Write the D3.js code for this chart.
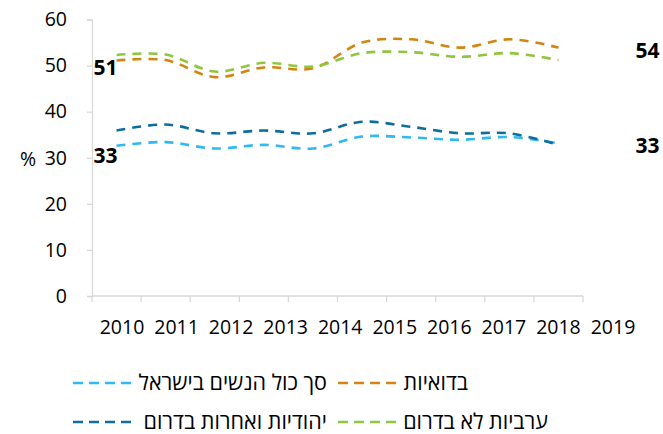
<!DOCTYPE html>
<html>
<head>
<meta charset="utf-8">
<script src="https://cdn.jsdelivr.net/npm/d3@7"></script>
<style>
  body { margin: 0; background: #fff; }
  svg text { font-family: "Open Sans", "Noto Sans", sans-serif; fill: #000; }
</style>
</head>
<body>
<div id="chart"></div>
<script>
// data
var years = ["2010","2011","2012","2013","2014","2015","2016","2017","2018","2019"];
var yTicks = [0, 10, 20, 30, 40, 50, 60];

var bedouin   = [51.1, 51.2, 47.5, 49.6, 49.4, 55.0, 55.7, 53.9, 55.7, 53.9];
var arabNorth = [52.3, 52.4, 48.7, 50.6, 49.8, 52.7, 52.9, 51.9, 52.7, 51.2];
var jewSouth  = [35.9, 37.2, 35.3, 35.9, 35.3, 37.8, 36.7, 35.3, 35.3, 32.8];
var allWomen  = [32.6, 33.4, 32.0, 32.8, 32.0, 34.6, 34.4, 33.9, 34.5, 33.1];

var seriesNames = ["סך כול הנשים בישראל", "בדואיות", "יהודיות ואחרות בדרום", "ערביות לא בדרום"];
var seriesColors = ["#2FB9F2", "#D4840F", "#0D6E9E", "#8EC63F"];
var seriesData = [allWomen, bedouin, jewSouth, arabNorth];

var startLabels = ["33", "51"];  // light blue, orange
var endLabels = ["33", "54"];

(function() {
  var W = 663, H = 434;
  var plot = {left: 92, right: 583, top: 19.5, bottom: 296};

  var svg = d3.select("#chart").append("svg")
    .attr("width", W).attr("height", H);

  var x = d3.scaleBand().domain(years).range([plot.left, plot.right]);
  var y = d3.scaleLinear().domain([0, 60]).range([plot.bottom, plot.top]);
  // category labels sit wider than the ticks in the original
  var xl = d3.scalePoint().domain(years).range([122, 613]);

  // y axis
  var yAxis = svg.append("g")
    .attr("transform", "translate(" + plot.left + ",0)")
    .call(d3.axisLeft(y).tickValues(yTicks).tickSize(5).tickPadding(20));
  yAxis.select(".domain").attr("stroke", "#D9D9D9").attr("stroke-width", 1.3);
  yAxis.selectAll(".tick line").attr("stroke", "#D9D9D9").attr("stroke-width", 1.3);
  yAxis.selectAll(".tick text").attr("font-size", 19.5).attr("fill", "#000")
    .style("font-family", "'Open Sans', sans-serif");

  // x axis line and ticks at band edges
  var xg = svg.append("g");
  xg.append("line")
    .attr("x1", plot.left).attr("x2", plot.right)
    .attr("y1", plot.bottom).attr("y2", plot.bottom)
    .attr("stroke", "#D9D9D9").attr("stroke-width", 1.3);
  var edges = years.map(function(d) { return x(d); }).concat([plot.right]);
  xg.selectAll(".xt").data(edges).enter().append("line")
    .attr("x1", function(d) { return d; }).attr("x2", function(d) { return d; })
    .attr("y1", plot.bottom).attr("y2", plot.bottom + 6)
    .attr("stroke", "#D9D9D9").attr("stroke-width", 1.3);
  xg.selectAll(".xl").data(years).enter().append("text")
    .attr("x", function(d) { return xl(d); })
    .attr("y", 334)
    .attr("text-anchor", "middle")
    .attr("font-size", 19.5)
    .text(function(d) { return d; });

  svg.append("text").attr("x", 20).attr("y", 166)
    .attr("font-size", 19.5).text("%");

  // lines
  var line = d3.line()
    .x(function(d, i) { return x(years[i]) + x.bandwidth() / 2; })
    .y(function(d) { return y(d); })
    .curve(d3.curveCatmullRom.alpha(0.5));

  svg.append("g").selectAll("path")
    .data(seriesData).enter().append("path")
    .attr("d", line)
    .attr("fill", "none")
    .attr("stroke", function(d, i) { return seriesColors[i]; })
    .attr("stroke-width", 2.6)
    .attr("stroke-dasharray", "9,7");

  // value labels
  var first = x(years[0]) + x.bandwidth() / 2;
  var last = x(years[years.length - 1]) + x.bandwidth() / 2;
  [allWomen, bedouin].forEach(function(s, i) {
    svg.append("text")
      .attr("x", first + 1).attr("y", y(s[0]) + (i === 0 ? 17 : 14))
      .attr("text-anchor", "end")
      .attr("font-size", 21).attr("font-weight", "bold")
      .text(startLabels[i]);
    svg.append("text")
      .attr("x", last + 77).attr("y", y(s[s.length - 1]) + 10)
      .attr("text-anchor", "start")
      .attr("font-size", 21).attr("font-weight", "bold")
      .text(endLabels[i]);
  });

  // legend (right-to-left rows)
  var legend = [
    {i: 0, dx: 73, tx: 327, y: 383},
    {i: 1, dx: 338, tx: 468, y: 383},
    {i: 2, dx: 73, tx: 327, y: 422},
    {i: 3, dx: 338, tx: 548, y: 422}
  ];
  var lg = svg.append("g").selectAll("g").data(legend).enter().append("g");
  lg.append("line")
    .attr("x1", function(d) { return d.dx; })
    .attr("x2", function(d) { return d.dx + 58; })
    .attr("y1", function(d) { return d.y; })
    .attr("y2", function(d) { return d.y; })
    .attr("stroke", function(d) { return seriesColors[d.i]; })
    .attr("stroke-width", 2.6)
    .attr("stroke-dasharray", "10,6");
  lg.append("text")
    .attr("x", function(d) { return d.tx; })
    .attr("y", function(d) { return d.y + 7; })
    .attr("text-anchor", "end")
    .attr("font-size", 21.5)
    .text(function(d) { return seriesNames[d.i]; });
})();
</script>
</body>
</html>
